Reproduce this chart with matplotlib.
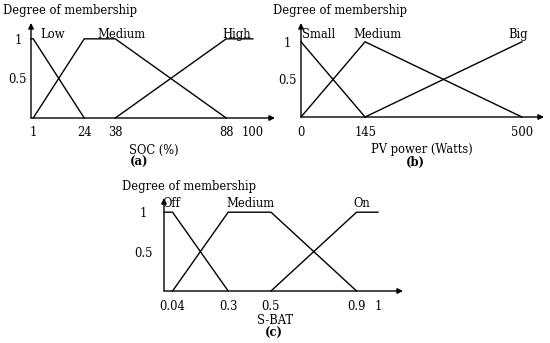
import matplotlib
matplotlib.use('Agg')
import matplotlib.pyplot as plt

W, H = 550, 343
plt.rcParams['font.family'] = 'DejaVu Serif'
plt.rcParams['font.size'] = 8.3

# (a) SOC (%)
soc_ticks = [1, 24, 38, 88, 100]
soc_low_x = [0, 1, 24]
soc_low_y = [1, 1, 0]
soc_med_x = [1, 24, 38, 88]
soc_med_y = [0, 1, 1, 0]
soc_high_x = [38, 88, 100]
soc_high_y = [0, 1, 1]

# (b) PV power (Watts)
pv_ticks = [0, 145, 500]
pv_small_x = [0, 145]
pv_small_y = [1, 0]
pv_med_x = [0, 145, 500]
pv_med_y = [0, 1, 0]
pv_big_x = [145, 500]
pv_big_y = [0, 1]

# (c) S-BAT
bat_ticks = [0.04, 0.3, 0.5, 0.9, 1]
bat_tick_labels = ['0.04', '0.3', '0.5', '0.9', '1']
bat_off_x = [0, 0.04, 0.3]
bat_off_y = [1, 1, 0]
bat_med_x = [0.04, 0.3, 0.5, 0.9]
bat_med_y = [0, 1, 1, 0]
bat_on_x = [0.5, 0.9, 1]
bat_on_y = [0, 1, 1]

y_ticks = [0.5, 1]
y_tick_labels = ['0.5', '1']


def px(x, y):
	return x / W, 1 - y / H


def make_axes(fig, left, right, xaxis_y, top, xmax, ymax):
	ax = fig.add_axes([left / W, 1 - xaxis_y / H, (right - left) / W, (xaxis_y - top) / H])
	ax.set_xlim(0, xmax)
	ax.set_ylim(0, ymax)
	for s in ax.spines.values():
		s.set_visible(False)
	ap = dict(arrowstyle='-|>', color='k', lw=1.0, mutation_scale=8, shrinkA=0, shrinkB=0)
	ax.annotate('', xy=(xmax, 0), xytext=(0, 0), arrowprops=ap, annotation_clip=False)
	ax.annotate('', xy=(0, ymax), xytext=(0, 0), arrowprops=ap, annotation_clip=False)
	ax.set_yticks(y_ticks)
	ax.set_yticklabels(y_tick_labels, ha='center')
	return ax


def draw(ax, xs, ys):
	ax.plot(xs, ys, color='k', lw=1.0, clip_on=False, solid_joinstyle='miter')


fig = plt.figure(figsize=(W / 100, H / 100), dpi=100)

# panel a
ax = make_axes(fig, 31, 275, 118, 23, 110, 1.2)
draw(ax, soc_low_x, soc_low_y)
draw(ax, soc_med_x, soc_med_y)
draw(ax, soc_high_x, soc_high_y)
ax.set_xticks(soc_ticks)
ax.set_xticklabels([str(t) for t in soc_ticks])
ax.tick_params(axis='x', length=0, pad=5.5)
ax.tick_params(axis='y', length=0, pad=9.5)
fig.text(*px(3, 4), 'Degree of membership', va='top', ha='left')
fig.text(*px(40, 38), 'Low', va='baseline', ha='left')
fig.text(*px(97, 38), 'Medium', va='baseline', ha='left')
fig.text(*px(222, 38), 'High', va='baseline', ha='left')
fig.text(*px(154, 150), 'SOC (%)', va='center', ha='center')
fig.text(*px(139, 162), '(a)', va='center', ha='center', fontweight='bold')

# panel b
ax = make_axes(fig, 301, 544, 117, 23, 550, 1.25)
draw(ax, pv_small_x, pv_small_y)
draw(ax, pv_med_x, pv_med_y)
draw(ax, pv_big_x, pv_big_y)
ax.set_xticks(pv_ticks)
ax.set_xticklabels([str(t) for t in pv_ticks])
ax.tick_params(axis='x', length=0, pad=6.5)
ax.tick_params(axis='y', length=0, pad=10)
fig.text(*px(273, 4), 'Degree of membership', va='top', ha='left')
fig.text(*px(302, 38), 'Small', va='baseline', ha='left')
fig.text(*px(353, 38), 'Medium', va='baseline', ha='left')
fig.text(*px(508, 38), 'Big', va='baseline', ha='left')
fig.text(*px(422, 150), 'PV power (Watts)', va='center', ha='center')
fig.text(*px(415, 162), '(b)', va='center', ha='center', fontweight='bold')

# panel c
ax = make_axes(fig, 164, 403, 291, 198, 1.117, 1.18)
draw(ax, bat_off_x, bat_off_y)
draw(ax, bat_med_x, bat_med_y)
draw(ax, bat_on_x, bat_on_y)
ax.set_xticks(bat_ticks)
ax.set_xticklabels(bat_tick_labels)
ax.tick_params(axis='x', length=0, pad=6.5)
ax.tick_params(axis='y', length=0, pad=15)
fig.text(*px(122, 180), 'Degree of membership', va='top', ha='left')
fig.text(*px(162, 207), 'Off', va='baseline', ha='left')
fig.text(*px(226, 207), 'Medium', va='baseline', ha='left')
fig.text(*px(353, 207), 'On', va='baseline', ha='left')
fig.text(*px(275, 320), 'S-BAT', va='center', ha='center')
fig.text(*px(274, 333), '(c)', va='center', ha='center', fontweight='bold')

fig.savefig('out.png', dpi=100, facecolor='white')
